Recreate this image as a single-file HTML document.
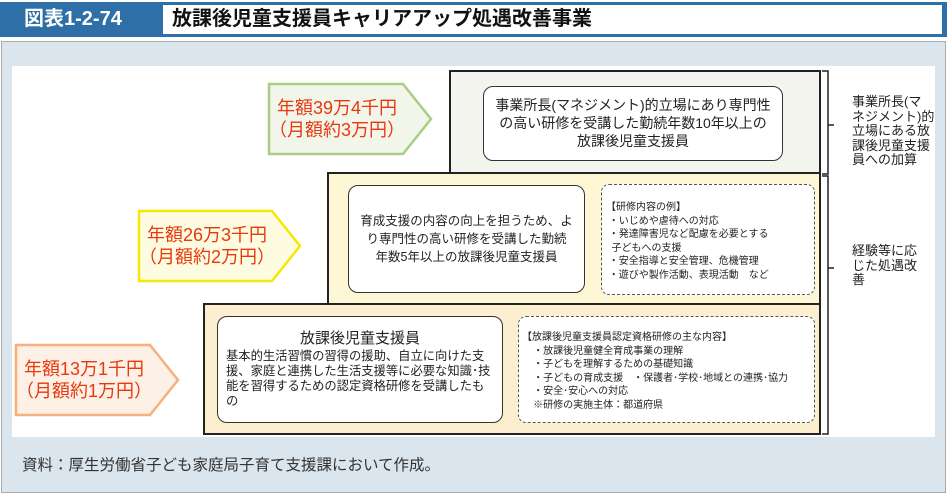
<!DOCTYPE html>
<html><head><meta charset="utf-8"><style>
*{margin:0;padding:0;box-sizing:border-box}
body{width:947px;height:494px;background:#fff;position:relative;overflow:hidden;font-family:"Liberation Sans","Noto Sans CJK JP",sans-serif;color:#222}
.a{position:absolute}
.box{position:absolute;border:2px solid #222}
.rr{position:absolute;border:1.5px solid #333;border-radius:10px;background:#fff}
.dash{position:absolute;border:1.5px dashed #555;border-radius:8px;background:#fff}
.t{position:absolute;font-size:13px;line-height:18px;text-align:center;white-space:nowrap}
.s{position:absolute;font-size:10px;line-height:13.5px;white-space:pre}
.red{position:absolute;color:#e8380d;font-size:18px;line-height:22px;text-align:center}
</style></head><body>
<div class="a" style="left:0;top:2px;width:947px;height:35px;background:#2f6fa7"></div>
<div class="a" style="left:0;top:2px;width:163px;height:35px;color:#fff;font-size:20px;font-weight:bold;line-height:35px;padding-left:24px">図表1-2-74</div>
<div class="a" style="left:163px;top:5px;width:779px;height:29px;background:#fff;font-size:20px;font-weight:bold;line-height:29px;padding-left:9px;color:#111">放課後児童支援員キャリアアップ処遇改善事業</div>
<div class="a" style="left:1px;top:41px;width:945px;height:452px;background:#dbe5ed;border:1px solid #aaa"></div>
<div class="a" style="left:12px;top:66px;width:923px;height:371px;background:#fff"></div>

<div class="box" style="left:449px;top:70px;width:372px;height:104px;background:#f4f4ee"></div>
<div class="rr" style="left:483px;top:86px;width:300px;height:75px"></div>
<div class="t" style="left:483px;top:96px;width:300px;font-size:14px">事業所長(マネジメント)的立場にあり専門性<br>の高い研修を受講した勤続年数10年以上の<br>放課後児童支援員</div>

<div class="box" style="left:327px;top:172px;width:494px;height:133px;background:#fdf7d6"></div>
<div class="rr" style="left:348px;top:185px;width:237px;height:108px"></div>
<div class="t" style="left:350px;top:212px;width:233px;font-size:12.5px">育成支援の内容の向上を担うため、よ<br>り専門性の高い研修を受講した勤続<br>年数5年以上の放課後児童支援員</div>
<div class="dash" style="left:601px;top:184px;width:214px;height:111px"></div>
<div class="s" style="left:606px;top:201px">【研修内容の例】
 ・いじめや虐待への対応
 ・発達障害児など配慮を必要とする
  子どもへの支援
 ・安全指導と安全管理、危機管理
 ・遊びや製作活動、表現活動　など</div>

<div class="box" style="left:203px;top:303px;width:618px;height:132px;background:#fcefcf"></div>
<div class="rr" style="left:217px;top:316px;width:286px;height:107px"></div>
<div class="a" style="left:217px;top:327px;width:286px;text-align:center;font-size:15px">放課後児童支援員</div>
<div class="a" style="left:226px;top:349px;width:280px;font-size:12.3px;line-height:15px;white-space:nowrap">基本的生活習慣の習得の援助、自立に向けた支<br>援、家庭と連携した生活支援等に必要な知識･技<br>能を習得するための認定資格研修を受講したも<br>の</div>
<div class="dash" style="left:518px;top:316px;width:297px;height:107px"></div>
<div class="s" style="left:522px;top:331px">【放課後児童支援員認定資格研修の主な内容】
    ・放課後児童健全育成事業の理解
    ・子どもを理解するための基礎知識
    ・子どもの育成支援　・保護者･学校･地域との連携･協力
    ・安全･安心への対応
    ※研修の実施主体：都道府県</div>

<svg class="a" style="left:0;top:0" width="947" height="494">
<polygon points="269,84 403,84 431,119 403,154 269,154" fill="#f2f5ea" stroke="#a9cf84" stroke-width="2.5"/>
<polygon points="139,211 272,211 300,246 272,281 139,281" fill="#fdfbe0" stroke="#f6e800" stroke-width="2.5"/>
<polygon points="16,345 150,345 178,380 150,415 16,415" fill="#fdf0e6" stroke="#f7b07c" stroke-width="2.5"/>
<path d="M822,71 h6 v103 h-6 M828,125 h6" fill="none" stroke="#222" stroke-width="1.5"/>
<path d="M822,176 h6 v258 h-6 M828,268 h6" fill="none" stroke="#222" stroke-width="1.5"/>
</svg>
<div class="red" style="left:269px;top:97px;width:136px">年額39万4千円<br>（月額約3万円）</div>
<div class="red" style="left:139px;top:224px;width:136px">年額26万3千円<br>（月額約2万円）</div>
<div class="red" style="left:16px;top:358px;width:136px">年額13万1千円<br>（月額約1万円）</div>

<div class="a" style="left:852px;top:95px;font-size:13px;line-height:14.5px;white-space:nowrap">事業所長(マ<br>ネジメント)的<br>立場にある放<br>課後児童支援<br>員への加算</div>
<div class="a" style="left:852px;top:244px;font-size:13px;line-height:14.5px;white-space:nowrap">経験等に応<br>じた処遇改<br>善</div>
<div class="a" style="left:22px;top:453px;font-size:15.5px;color:#333;white-space:nowrap">資料：厚生労働省子ども家庭局子育て支援課において作成。</div>
</body></html>
